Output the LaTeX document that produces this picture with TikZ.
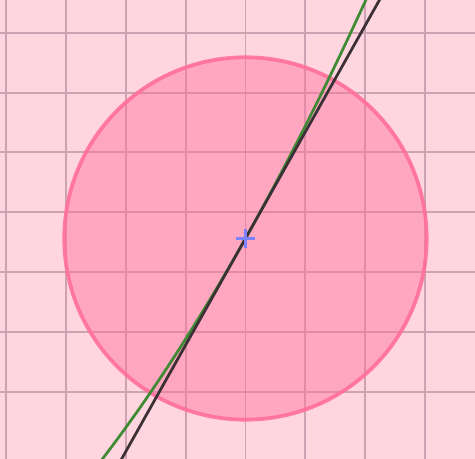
\documentclass[tikz,border=0pt]{standalone}
\usetikzlibrary{calc}
\definecolor{fondo}{HTML}{FFD6E0}
\definecolor{rejilla}{HTML}{CDA2B2}
\definecolor{rosa}{HTML}{FF6F9C}
\definecolor{verde}{HTML}{3F8A35}
\definecolor{tinta}{HTML}{3A3035}
\definecolor{azul}{HTML}{7A82FF}

\begin{document}
\begin{tikzpicture}[x=1cm, y=1cm]
        \fill[fondo] (-4.105,-3.687) rectangle (3.838,3.988);
        \useasboundingbox (-4.105,-3.687) rectangle (3.838,3.988);
        \clip (-4.105,-3.687) rectangle (3.838,3.988);
        \foreach \x in {-4,...,3}
          \draw[rejilla,line width=0.9pt] (\x,-3.8) -- (\x,4.1);
        \foreach \y in {-3,...,3}
          \draw[rejilla,line width=0.9pt] (-4.2,\y+0.44) -- (3.9,\y+0.44);
        \coordinate (p) at (0,0);
        \node[circle,minimum size=6.06cm,inner sep=0pt,fill=rosa,fill opacity=0.46,
          draw=rosa,draw opacity=0.9,line width=1.8pt] (vecindad) at (p) {};
        \draw[verde,line width=1.3pt] plot[domain=-2.6:2.2,samples=80]
          (\x,{1.78*\x+0.1*\x*\x});
        \coordinate (t1) at ($(p)+(-2.25,-4.005)$);
        \coordinate (t2) at ($(p)+(2.35,4.183)$);
        \draw[tinta,line width=1.3pt] (t1) -- (t2);
        \draw[azul,line width=1.5pt] ($(p)+(-0.16,0)$) -- ($(p)+(0.16,0)$)
          ($(p)+(0,-0.16)$) -- ($(p)+(0,0.16)$);
      \end{tikzpicture}
\end{document}
